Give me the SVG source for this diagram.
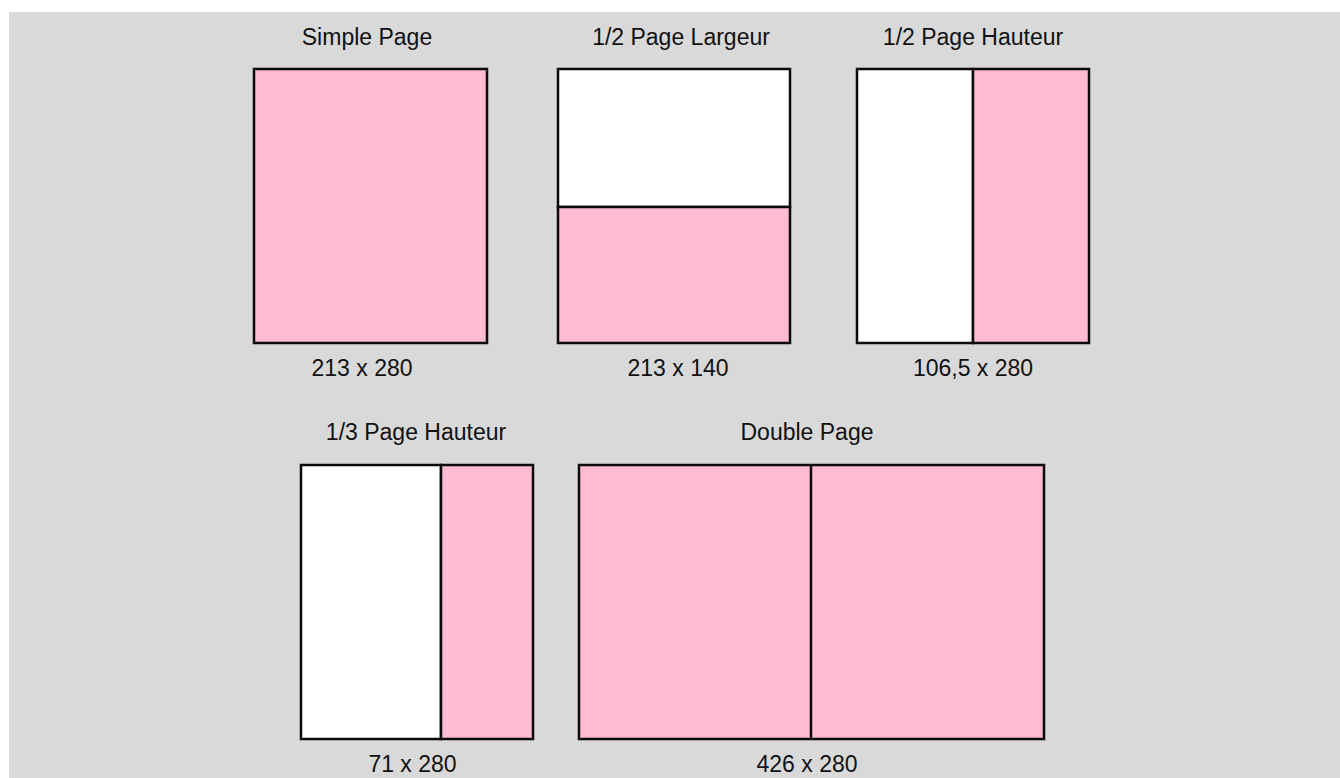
<svg xmlns="http://www.w3.org/2000/svg" width="1340" height="778" viewBox="0 0 1340 778">
<style>
.pink{fill:#ffbbd0;stroke:#0a0a0a;stroke-width:2.5}
.white{fill:#ffffff;stroke:#0a0a0a;stroke-width:2.5}
.div{stroke:#0a0a0a;stroke-width:2.5;fill:none}
.lbl{font-family:"Liberation Sans",Arial,sans-serif;font-size:23px;fill:#111;text-anchor:middle}
</style>
<rect x="0" y="0" width="1340" height="778" fill="#ffffff"/>
<rect x="9" y="12" width="1331" height="766" fill="#d9d9d9"/>
<g id="simple-page">
<rect class="pink" x="254" y="69" width="233" height="274"/>
<text class="lbl" x="367" y="45">Simple Page</text>
<text class="lbl" x="362" y="376">213 x 280</text>
</g>
<g id="demi-page-largeur">
<rect class="white" x="558" y="69" width="232" height="138"/>
<rect class="pink" x="558" y="207" width="232" height="136"/>
<text class="lbl" x="681" y="45">1/2 Page Largeur</text>
<text class="lbl" x="678" y="376">213 x 140</text>
</g>
<g id="demi-page-hauteur">
<rect class="white" x="857" y="69" width="116" height="274"/>
<rect class="pink" x="973" y="69" width="116" height="274"/>
<text class="lbl" x="973" y="45">1/2 Page Hauteur</text>
<text class="lbl" x="973" y="376">106,5 x 280</text>
</g>
<g id="tiers-page-hauteur">
<rect class="white" x="301" y="465" width="140" height="274"/>
<rect class="pink" x="441" y="465" width="92" height="274"/>
<text class="lbl" x="416" y="440">1/3 Page Hauteur</text>
<text class="lbl" x="412.5" y="772">71 x 280</text>
</g>
<g id="double-page">
<rect class="pink" x="579" y="465" width="465" height="274"/>
<line class="div" x1="811" y1="465" x2="811" y2="739"/>
<text class="lbl" x="807" y="440">Double Page</text>
<text class="lbl" x="807" y="772">426 x 280</text>
</g>
<g id="connectors"></g>
</svg>
